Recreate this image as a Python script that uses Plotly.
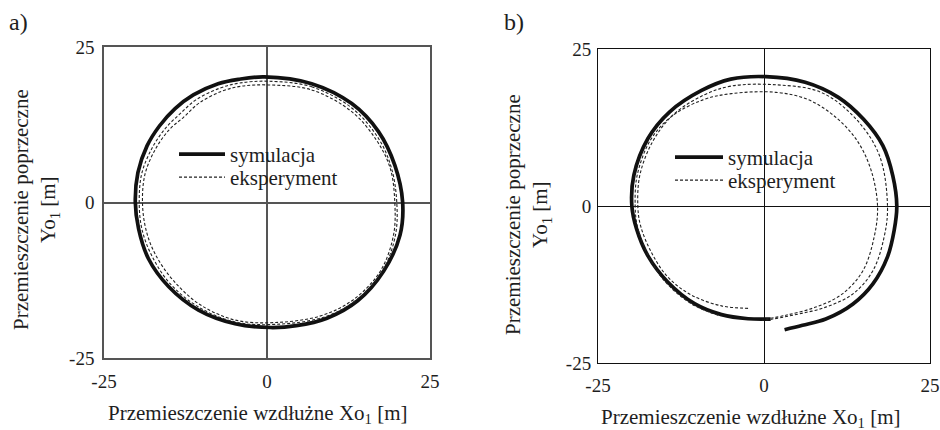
import plotly.graph_objects as go

# ---- panel a) : closed manoeuvre (circle) ----
sim_a_x = [-0.4, 6.85, 13.0, 17.1, 19.6, 20.8, 20.4, 17.9, 13.9, 9.2, 4.5, 0.5, -4.9,
           -10.5, -15.1, -18.2, -19.7, -20.2, -19.8, -18.4, -16.5, -14.1, -11.3, -7.5, -4.4, -0.4]
sim_a_y = [20.2, 19.1, 15.9, 11.4, 6.0, 0.1, -5.25, -11.0, -15.8, -18.6, -19.8, -20.1, -19.5,
           -17.3, -13.5, -9.0, -4.2, 0.1, 4.8, 9.1, 12.3, 15.1, 17.3, 19.1, 19.8, 20.2]

exp_a1_x = [0.2, 6.85, 13.0, 17.1, 19.1, 19.9, 19.7, 17.7, 13.8, 8.8, 1.2, -4.9,
            -10.5, -14.9, -17.7, -19.2, -19.6, -19.2, -17.6, -15.6, -13.4, -10.9, -7.2, -4.2, 0.2]
exp_a1_y = [19.5, 18.6, 15.2, 10.3, 5.5, 0.1, -5.25, -11.0, -15.6, -18.4, -19.6, -19.2,
            -16.8, -13.0, -8.5, -4.2, 0.1, 4.7, 8.8, 11.9, 14.2, 16.5, 18.4, 19.2, 19.5]

exp_a2_x = [0.2, 6.85, 13.0, 16.8, 18.9, 19.6, 19.4, 17.4, 13.4, 8.3, 1.2, -4.9,
            -10.3, -14.4, -17.2, -18.6, -19.1, -18.7, -17.1, -15.0, -12.8, -10.4, -6.9, -3.9, 0.2]
exp_a2_y = [18.9, 18.1, 14.6, 10.0, 5.5, 0.1, -5.25, -11.0, -15.5, -18.2, -19.3, -18.9,
            -16.4, -12.5, -8.2, -4.2, 0.1, 4.6, 8.6, 11.7, 13.7, 16.0, 17.9, 18.7, 18.9]

# ---- panel b) : open manoeuvre (spiral) ----
sim_b_x = [1.0, -2.4, -6.4, -10.4, -14.5, -17.5, -19.2, -19.9, -19.6, -17.5, -14.2, -9.4,
           -5.0, 0.3, 6.2, 11.2, 15.0, 17.9, 19.4, 20.0, 19.6, 18.6, 16.4, 13.4, 9.3, 5.8, 3.1]
sim_b_y = [-18.0, -17.95, -17.3, -15.6, -12.1, -7.9, -3.6, 0.0, 4.9, 10.7, 15.0, 18.4,
           20.2, 20.6, 19.7, 17.3, 13.8, 9.6, 4.8, 0.0, -3.9, -8.1, -12.4, -15.6, -18.0, -19.0, -19.7]

exp_b1_x = [-2.4, -6.4, -10.9, -14.5, -17.0, -18.6, -19.0, -18.7, -16.8, -13.7, -9.0, -4.9,
            1.8, 8.6, 13.9, 17.4, 18.6, 18.1, 16.4, 13.4, 9.3, 4.3, 1.3, -0.3]
exp_b1_y = [-16.3, -15.9, -14.2, -11.3, -7.3, -3.1, 0.0, 4.9, 10.2, 14.5, 17.7, 19.1,
            19.3, 18.1, 13.8, 8.0, 0.0, -4.9, -10.3, -14.0, -16.1, -17.4, -18.0, -18.2]

exp_b2_x = [-6.9, -10.9, -15.0, -17.7, -19.1, -19.4, -19.1, -17.1, -14.0, -9.2, -4.9, 1.8,
            6.5, 10.5, 13.9, 16.1, 17.1, 16.6, 14.9, 11.8, 7.8, 3.3, 0.3]
exp_b2_y = [-17.4, -15.6, -11.9, -7.3, -3.1, 0.0, 4.9, 10.5, 14.2, 16.9, 17.9, 18.1,
            17.0, 14.4, 10.6, 5.8, 0.0, -4.9, -10.3, -14.0, -16.1, -17.4, -18.0]

tick_vals = [-25, 0, 25]
tick_text = ["-25", "0", "25"]
axis_range = [-25, 25]

SERIF = "Liberation Serif, Times New Roman, serif"
x_title = "Przemieszczenie wzdłużne Xo<sub>1</sub> [m]"
y_title = "Przemieszczenie poprzeczne<br>Yo<sub>1</sub> [m]"
TEXT = "#1e1e1e"
DASH = "3px,2px"

fig = go.Figure()


def add_curve(xs, ys, name, solid, xa, ya, legend=None, show=True):
    line = dict(color="#111111", width=3.7, shape="spline", smoothing=1.0) if solid else \
        dict(color="#222222", width=1.1, dash=DASH, shape="spline", smoothing=1.0)
    kw = dict(x=xs, y=ys, mode="lines", name=name, line=line, xaxis=xa, yaxis=ya,
              showlegend=show)
    if legend:
        kw["legend"] = legend
    fig.add_trace(go.Scatter(**kw))


# panel a (each legend entry gets its own legend box so the rows sit close together)
add_curve(sim_a_x, sim_a_y, "symulacja", True, "x", "y", "legend")
add_curve(exp_a1_x, exp_a1_y, "eksperyment", False, "x", "y", "legend3")
add_curve(exp_a2_x, exp_a2_y, "eksperyment", False, "x", "y", "legend3", show=False)
# panel b
add_curve(sim_b_x, sim_b_y, "symulacja", True, "x2", "y2", "legend2")
add_curve(exp_b1_x, exp_b1_y, "eksperyment", False, "x2", "y2", "legend4")
add_curve(exp_b2_x, exp_b2_y, "eksperyment", False, "x2", "y2", "legend4", show=False)

W, H = 940, 430


def px_x(p):
    return p / W


def px_y(p):
    return 1 - p / H


def axis_common(frame_color, frame_width):
    return dict(range=axis_range, tickvals=tick_vals, ticktext=tick_text,
                showgrid=False, zeroline=True, zerolinecolor=frame_color,
                zerolinewidth=frame_width, showline=True, linecolor=frame_color,
                linewidth=frame_width, mirror=True, ticks="", fixedrange=True,
                automargin=False,
                tickfont=dict(family=SERIF, size=19, color=TEXT))


legend_style = dict(xanchor="left", yanchor="top", bgcolor="rgba(255,255,255,0)",
                    borderwidth=0, tracegroupgap=0,
                    font=dict(family=SERIF, size=21, color=TEXT))

fig.update_layout(
    width=W, height=H,
    margin=dict(l=0, r=0, t=0, b=0, autoexpand=False),
    paper_bgcolor="white", plot_bgcolor="white",
    font=dict(family=SERIF, color=TEXT),
    xaxis=dict(domain=[px_x(104), px_x(430)], anchor="y", ticklabelstandoff=5,
               **axis_common("#555555", 1.6)),
    yaxis=dict(domain=[px_y(358), px_y(47)], anchor="x", ticklabelstandoff=4,
               **axis_common("#555555", 1.6)),
    xaxis2=dict(domain=[px_x(598), px_x(930)], anchor="y2", ticklabelstandoff=5,
                **axis_common("#111111", 1.1)),
    yaxis2=dict(domain=[px_y(363), px_y(49)], anchor="x2", ticklabelstandoff=2,
                **axis_common("#111111", 1.1)),
    legend=dict(x=px_x(174), y=px_y(134), itemwidth=46, **legend_style),
    legend3=dict(x=px_x(174), y=px_y(157), itemwidth=46, **legend_style),
    legend2=dict(x=px_x(670), y=px_y(137), itemwidth=48, **legend_style),
    legend4=dict(x=px_x(670), y=px_y(160), itemwidth=48, **legend_style),
    showlegend=True,
)

annotations = [
    dict(text="a)", x=px_x(7), y=px_y(22), xanchor="left", yanchor="middle", size=24),
    dict(text="b)", x=px_x(502), y=px_y(22), xanchor="left", yanchor="middle", size=24),
    dict(text=x_title, x=px_x(257), y=px_y(414), xanchor="center", yanchor="middle"),
    dict(text=x_title, x=px_x(750), y=px_y(418), xanchor="center", yanchor="middle"),
    dict(text=y_title, x=px_x(36), y=px_y(210), xanchor="center", yanchor="middle",
         textangle=-90),
    dict(text=y_title, x=px_x(528), y=px_y(215), xanchor="center", yanchor="middle",
         textangle=-90),
]
for a in annotations:
    size = a.pop("size", 21)
    fig.add_annotation(xref="paper", yref="paper", showarrow=False,
                       font=dict(family=SERIF, size=size, color=TEXT), **a)

fig.write_html("out.html")
